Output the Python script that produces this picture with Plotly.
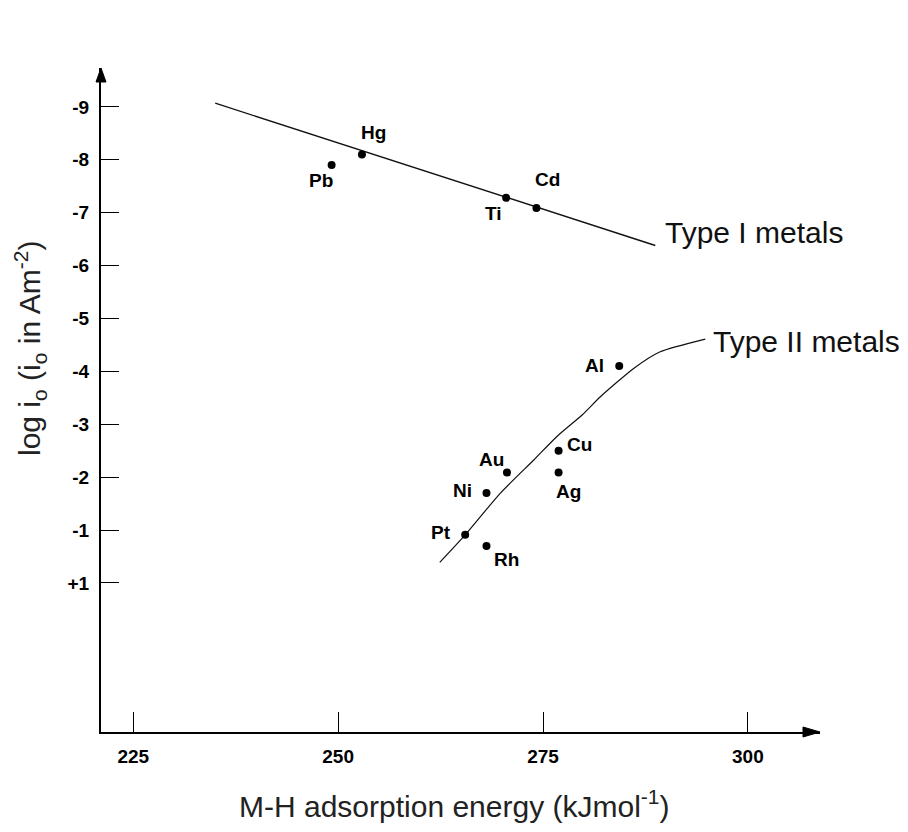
import plotly.graph_objects as go

# ---- data ----
metals = ["Hg", "Pb", "Ti", "Cd", "Al", "Cu", "Au", "Ag", "Ni", "Pt", "Rh"]
energy = [252.9, 249.2, 270.5, 274.2, 284.3, 276.9, 270.6, 276.9, 268.1, 265.5, 268.1]
log_i0 = [-8.10, -7.90, -7.28, -7.09, -4.10, -2.50, -2.09, -2.09, -1.70, -0.91, -0.70]

type1_x = [235.0, 288.7]
type1_y = [-9.07, -6.38]

type2_x = [262.4, 265.5, 269.8, 273.9, 276.7, 279.8, 282.0, 286.1, 289.3, 294.8]
type2_y = [-0.39, -0.91, -1.70, -2.33, -2.77, -3.18, -3.52, -4.06, -4.37, -4.61]

x_ticks = [225, 250, 275, 300]
x_ticktext = ["225", "250", "275", "300"]
y_tickvals = [-9, -8, -7, -6, -5, -4, -3, -2, -1, 0]
y_ticktext = ["-9", "-8", "-7", "-6", "-5", "-4", "-3", "-2", "-1", "+1"]

# label offsets in pixels (dx right, dy up)
label_offsets = {
    "Hg": (12, 22), "Pb": (-11, -15), "Ti": (-13, -16), "Cd": (11, 28),
    "Al": (-25, 1), "Cu": (21, 6), "Au": (-15, 13), "Ag": (10, -19),
    "Ni": (-24, 3), "Pt": (-24, 2), "Rh": (20, -14),
}

fig = go.Figure()

fig.add_trace(go.Scatter(x=type1_x, y=type1_y, mode="lines",
                         line=dict(color="#111111", width=1.4), hoverinfo="skip"))
fig.add_trace(go.Scatter(x=type2_x, y=type2_y, mode="lines",
                         line=dict(color="#111111", width=1.2, shape="spline", smoothing=0.6),
                         hoverinfo="skip"))
fig.add_trace(go.Scatter(x=energy, y=log_i0, mode="markers",
                         marker=dict(color="black", size=8), text=metals))

FONT = "Liberation Sans, Arial, sans-serif"
label_font = dict(family=FONT, size=19, color="black")
for m, xv, yv in zip(metals, energy, log_i0):
    dx, dy = label_offsets[m]
    fig.add_annotation(x=xv, y=yv, text="<b>%s</b>" % m, showarrow=False,
                       xshift=dx, yshift=dy, font=label_font)

type_font = dict(family=FONT, size=30, color="#111111")
fig.add_annotation(x=type1_x[-1], y=type1_y[-1], text="Type I metals", showarrow=False,
                   xanchor="left", yanchor="middle", xshift=8, yshift=13, font=type_font)
fig.add_annotation(x=type2_x[-1], y=type2_y[-1], text="Type II metals", showarrow=False,
                   xanchor="left", yanchor="middle", xshift=6, yshift=-2, font=type_font)

# axis titles
title_font = dict(family=FONT, size=30, color="#222222")
fig.add_annotation(xref="paper", yref="paper", x=0.491, y=-0.108,
                   text="M-H adsorption energy (kJmol<sup>-1</sup>)", showarrow=False,
                   xanchor="center", yanchor="middle", font=title_font)
fig.add_annotation(xref="paper", yref="paper", x=-0.099, y=0.578, textangle=-90,
                   text="log i<sub>o</sub> (i<sub>o</sub> in Am<sup>-2</sup>)", showarrow=False,
                   xanchor="center", yanchor="middle", font=title_font)

# axis arrowheads (pixel-sized triangles anchored at the axis ends)
fig.add_shape(type="path", xref="paper", yref="paper", xsizemode="pixel", ysizemode="pixel",
              xanchor=0, yanchor=1, path="M -5,-14 L 0,0 L 5,-14 Z",
              fillcolor="black", line=dict(color="black", width=1))
fig.add_shape(type="path", xref="paper", yref="paper", xsizemode="pixel", ysizemode="pixel",
              xanchor=1, yanchor=0, path="M -17,-5 L 0,0 L -17,5 Z",
              fillcolor="black", line=dict(color="black", width=1))

tick_font = dict(family=FONT, size=19, color="black")
fig.update_xaxes(range=[221.06, 308.8], tickvals=x_ticks,
                 ticktext=["<b>%s</b>" % t for t in x_ticktext], ticks="inside", ticklen=20,
                 tickwidth=1.3, tickcolor="black", showline=True, linewidth=2, linecolor="black",
                 showgrid=False, zeroline=False, tickfont=tick_font, ticklabelstandoff=6)
fig.update_yaxes(range=[2.817, -9.735], tickvals=y_tickvals,
                 ticktext=["<b>%s</b>" % t for t in y_ticktext],
                 ticks="inside", ticklen=18, tickwidth=1.3, tickcolor="black", showline=True,
                 linewidth=2, linecolor="black", showgrid=False, zeroline=False,
                 tickfont=tick_font, ticklabelstandoff=6)

fig.update_layout(width=908, height=832, margin=dict(l=101, r=88, t=68, b=100),
                  plot_bgcolor="white", paper_bgcolor="white", showlegend=False)

fig.write_html("out.html")
